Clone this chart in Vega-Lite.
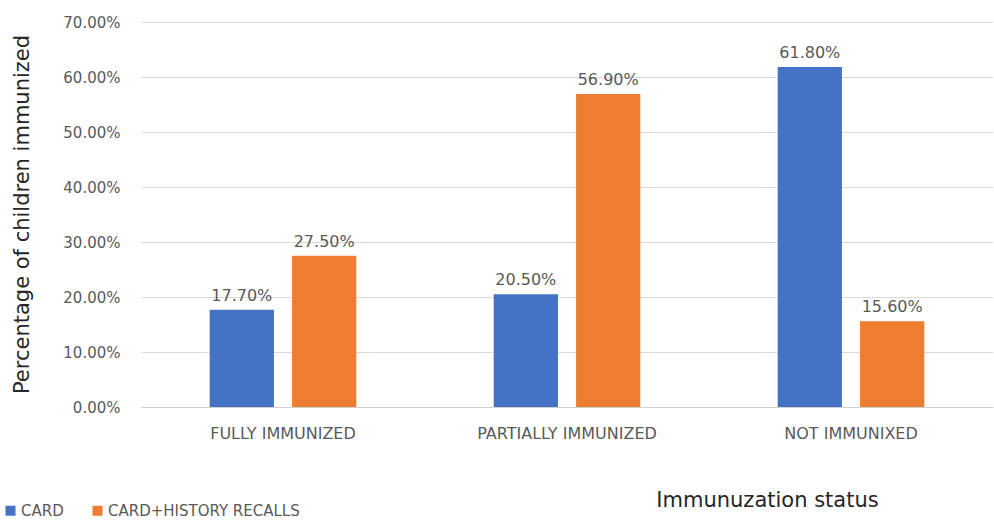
{
  "$schema": "https://vega.github.io/schema/vega-lite/v6.json",
  "width": 852,
  "height": 385,
  "autosize": {"type": "none"},
  "padding": {"left": 141, "top": 22, "right": 1, "bottom": 118},
  "background": "white",
  "config": {"font": "DejaVu Sans", "view": {"stroke": null}},
  "data": {"values": [
    {"status": "FULLY IMMUNIZED", "source": "CARD", "value": 0.177},
    {"status": "FULLY IMMUNIZED", "source": "CARD+HISTORY RECALLS", "value": 0.275},
    {"status": "PARTIALLY IMMUNIZED", "source": "CARD", "value": 0.205},
    {"status": "PARTIALLY IMMUNIZED", "source": "CARD+HISTORY RECALLS", "value": 0.569},
    {"status": "NOT IMMUNIXED", "source": "CARD", "value": 0.618},
    {"status": "NOT IMMUNIXED", "source": "CARD+HISTORY RECALLS", "value": 0.156}
  ]},
  "encoding": {
    "x": {"field": "status", "type": "nominal", "sort": null,
      "scale": {"paddingInner": 0.42, "paddingOuter": 0.21},
      "axis": {"title": "Immunuzation status", "labelAngle": 0, "labelFontSize": 16, "labelColor": "#595959",
        "labelPadding": 18, "ticks": false, "domainColor": "#d0d0d0", "titleFontSize": 21, "titleFontWeight": "normal",
        "titleColor": "#262626", "titleX": 626, "titleY": 93, "titleAlign": "center", "titleBaseline": "middle"}},
    "xOffset": {"field": "source", "type": "nominal", "scale": {"paddingInner": 0.22, "paddingOuter": 0.11}},
    "y": {"field": "value", "type": "quantitative",
      "scale": {"domain": [0, 0.7], "nice": false},
      "axis": {"title": "Percentage of children immunized", "format": ".2%", "values": [0, 0.1, 0.2, 0.3, 0.4, 0.5, 0.6, 0.7],
        "labelOverlap": false, "labelFontSize": 15, "labelColor": "#595959", "labelPadding": 21, "ticks": false, "domain": false,
        "gridColor": "#d9d9d9", "titleFontSize": 21, "titleFontWeight": "normal", "titleColor": "#262626",
        "titleX": -119, "titleY": 192, "titleAngle": -90, "titleAlign": "center", "titleBaseline": "middle"}}
  },
  "layer": [
    {"mark": {"type": "bar"},
     "encoding": {"color": {"field": "source", "type": "nominal",
       "scale": {"domain": ["CARD", "CARD+HISTORY RECALLS"], "range": ["#4472C4", "#ED7D31"]},
       "legend": {"title": null, "orient": "none", "direction": "horizontal", "legendX": -138, "legendY": 481,
         "symbolType": "square", "symbolSize": 100, "labelFontSize": 15, "labelLimit": 400, "labelColor": "#595959", "columnPadding": 26, "labelOffset": 3}}}},
    {"mark": {"type": "text", "dy": -14, "fontSize": 16, "color": "#595959"},
     "encoding": {"text": {"field": "value", "type": "quantitative", "format": ".2%"}}}
  ]
}
